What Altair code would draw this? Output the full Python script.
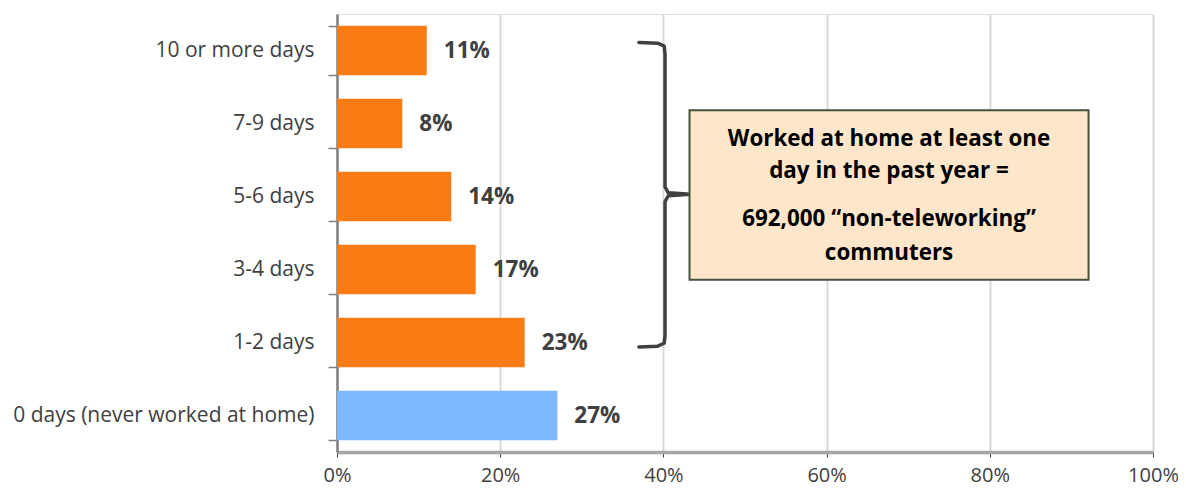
import altair as alt
import pandas as pd

categories = ["10 or more days", "7-9 days", "5-6 days", "3-4 days", "1-2 days",
              "0 days (never worked at home)"]
values = [0.11, 0.08, 0.14, 0.17, 0.23, 0.27]
groups = ["home", "home", "home", "home", "home", "never"]
x_ticks = [0, 0.2, 0.4, 0.6, 0.8, 1.0]

note_lines = ["Worked at home at least one", "day in the past year =",
              "692,000 \u201cnon-teleworking\u201d", "commuters"]
note_line_pos = [1.71, 2.15, 2.81, 3.28]

# bracket path (x in share units, y in band units from top)
brace_x = [0.370, 0.393, 0.401, 0.402, 0.402, 0.406, 0.433, 0.406, 0.402, 0.402, 0.401, 0.393, 0.370]
brace_y = [0.39, 0.40, 0.44, 0.55, 2.37, 2.45, 2.47, 2.49, 2.57, 4.40, 4.51, 4.55, 4.56]

box_x, box_x2 = [0.432], [0.921]
box_y, box_y2 = [1.32], [3.64]

FONT = "Open Sans"

bars_df = pd.DataFrame({"cat": categories, "val": values, "grp": groups})
bars_df["lbl"] = [f"{round(v*100)}%" for v in values]

y_enc = alt.Y("cat:N", sort=categories, title=None,
              scale=alt.Scale(paddingInner=0.32, paddingOuter=0.16),
              axis=alt.Axis(labelFont=FONT, labelFontSize=21, labelColor="#404040",
                            labelPadding=14, labelLimit=500, tickBand="extent", tickSize=9,
                            tickColor="#808080", tickWidth=1.5, domainColor="#808080",
                            domainWidth=2.5, grid=False))
x_enc = alt.X("val:Q", title=None,
              scale=alt.Scale(domain=[0, 1], nice=False),
              axis=alt.Axis(values=x_ticks, format=".0%", labelFont=FONT, labelFontSize=20,
                            labelColor="#404040", labelPadding=8, labelFlush=False,
                            tickSize=5, tickColor="#404040", domainColor="#A6A6A6",
                            domainWidth=3.5, gridColor="#D9D9D9", gridWidth=2))

bars = alt.Chart(bars_df).mark_bar().encode(
    x=x_enc, y=y_enc,
    color=alt.Color("grp:N", scale=alt.Scale(domain=["home", "never"],
                                             range=["#FB7C14", "#7DB9FC"]), legend=None),
)
labels = alt.Chart(bars_df).mark_text(align="left", dx=17, font=FONT, fontWeight="bold",
                                      fontSize=22.5, color="#404040").encode(
    x="val:Q", y=alt.Y("cat:N", sort=categories), text="lbl:N")

base = alt.layer(bars, labels)

yq = alt.Scale(domain=[0, 6], reverse=True, nice=False)

brace_df = pd.DataFrame({"x": brace_x, "y": brace_y, "o": list(range(len(brace_x)))})
brace = alt.Chart(brace_df).mark_line(color="#404040", strokeWidth=3.5,
                                      strokeJoin="round", strokeCap="round").encode(
    x=alt.X("x:Q"), y=alt.Y("y:Q", scale=yq, axis=None), order="o:Q")

box_df = pd.DataFrame({"x": box_x, "x2": box_x2, "y": box_y, "y2": box_y2})
box = alt.Chart(box_df).mark_rect(fill="#FEE6CA", stroke="#44523C", strokeWidth=2).encode(
    x="x:Q", x2="x2:Q", y=alt.Y("y:Q", scale=yq, axis=None), y2="y2:Q")

note_df = pd.DataFrame({"t": note_lines, "y": note_line_pos,
                        "x": [(box_x[0] + box_x2[0]) / 2] * len(note_lines)})
note = alt.Chart(note_df).mark_text(font=FONT, fontWeight="bold", fontSize=22.4,
                                    color="#000000", baseline="middle").encode(
    x="x:Q", y=alt.Y("y:Q", scale=yq, axis=None), text="t:N")

annot = alt.layer(brace, box, note)

chart = alt.layer(base, annot).resolve_scale(y="independent").properties(
    width=816, height=438,
    padding={"left": 329, "top": 6, "right": 25, "bottom": 31},
    autosize="none",
).configure_view(stroke="#D9D9D9", strokeWidth=2).configure(background="white")

chart.save("out.html", embed_options={"renderer": "svg", "actions": False})
